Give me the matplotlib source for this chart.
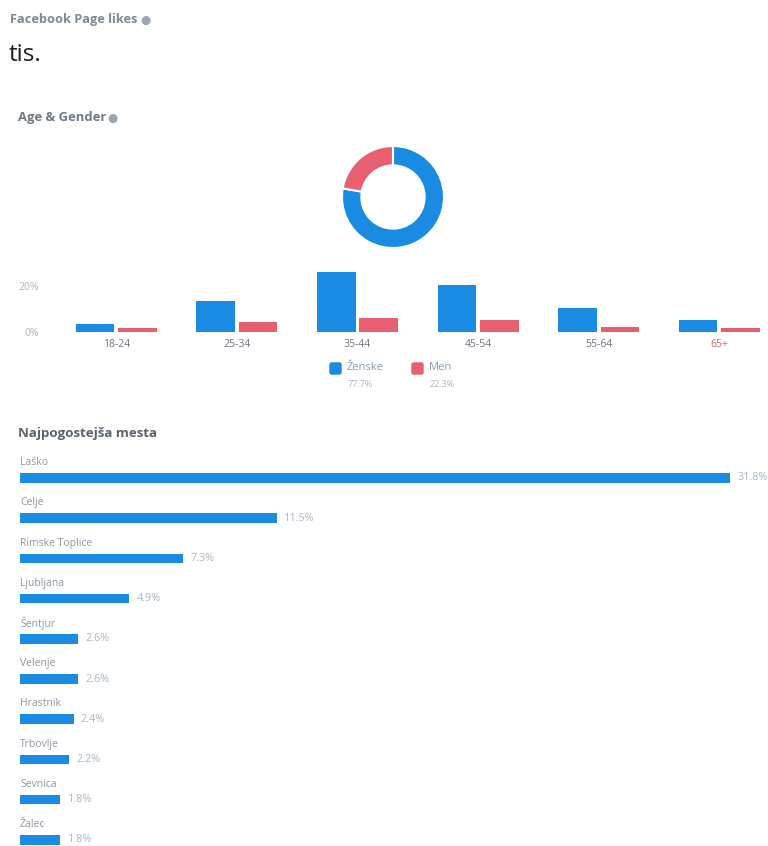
import matplotlib.pyplot as plt
from matplotlib.patches import FancyBboxPatch
import numpy as np

plt.rcParams['font.family'] = ['Open Sans', 'DejaVu Sans']

W, H = 768, 846

# data
age_groups = ['18-24', '25-34', '35-44', '45-54', '55-64', '65+']
women = [3.2, 13.5, 25.8, 20.3, 10.2, 5.1]
men = [1.7, 4.3, 5.8, 5.1, 2.2, 1.5]
gender_labels = ['Ženske', 'Men']
gender_share = [77.7, 22.3]

cities = ['Laško', 'Celje', 'Rimske Toplice', 'Ljubljana', 'Šentjur',
          'Velenje', 'Hrastnik', 'Trbovlje', 'Sevnica', 'Žalec']
city_share = [31.8, 11.5, 7.3, 4.9, 2.6, 2.6, 2.4, 2.2, 1.8, 1.8]

BLUE = '#1a8be2'
PINK = '#e8606f'
GRAY = '#8d97a5'
LIGHT = '#a9b7c8'


def rect(l, t, r, b):
    return [l / W, 1 - b / H, (r - l) / W, (b - t) / H]


def ftext(x, y, s, **kw):
    kw.setdefault('va', 'center')
    fig.text(x / W, 1 - y / H, s, **kw)


fig = plt.figure(figsize=(W / 100, H / 100), dpi=100)

# headers
ftext(10, 20, 'Facebook Page likes', fontsize=9.2, fontweight='bold', color='#7d8896')
ftext(140, 20, '●', fontsize=8.5, color='#9aa5b1', family='DejaVu Sans')
ftext(9, 55, 'tis.', fontsize=17.5, color='#1c1e21')
ftext(18, 118, 'Age & Gender', fontsize=9.4, fontweight='bold', color='#6e7a88')
ftext(107, 118, '●', fontsize=8.5, color='#9aa5b1', family='DejaVu Sans')
ftext(18, 434, 'Najpogostejša mesta', fontsize=9.5, fontweight='bold', color='#5a6270')

# donut
ax_d = fig.add_axes(rect(342, 146, 444, 248))
ax_d.pie(gender_share, colors=[BLUE, PINK], startangle=90, counterclock=False,
         radius=1, wedgeprops=dict(width=0.38, edgecolor='white', linewidth=1.5))
ax_d.set_xlim(-1, 1)
ax_d.set_ylim(-1, 1)
ax_d.axis('off')

# age bars
ax_b = fig.add_axes(rect(56, 265, 766, 331.7))
x = np.arange(len(age_groups))
bw = 0.32
ax_b.bar(x - 0.175, women, bw, color=BLUE)
ax_b.bar(x + 0.175, men, bw, color=PINK)
ax_b.set_xlim(-0.5, -0.5 + 710 / 120.6)
ax_b.set_ylim(0, 29)
ax_b.set_yticks([0, 20])
ax_b.set_yticklabels(['0%', '20%'], fontsize=7.5, color=LIGHT)
ax_b.set_xticks(x)
ax_b.set_xticklabels(age_groups, fontsize=7.5, color='#6f7784')
ax_b.get_xticklabels()[-1].set_color(PINK)
ax_b.tick_params(length=0, pad=5)
ax_b.tick_params(axis='y', pad=12)
for s in ax_b.spines.values():
    s.set_visible(False)

# legend
for lx, lab, val, col in [(330, gender_labels[0], gender_share[0], BLUE),
                          (412, gender_labels[1], gender_share[1], PINK)]:
    fig.patches.append(FancyBboxPatch((lx / W, 1 - 374 / H), 11 / W, 11 / H,
                                      boxstyle='round,pad=0,rounding_size=0.002',
                                      transform=fig.transFigure, color=col))
    ftext(lx + 17, 368, lab, fontsize=8, color='#8d9bb0')
    ftext(lx + 18, 384, f'{val}%', fontsize=6.5, color=LIGHT)

# cities
ax_c = fig.add_axes(rect(20, 455, 768, 846))
y = np.arange(len(cities))
ax_c.barh(y, city_share, 0.24, color=BLUE)
ax_c.set_xlim(0, 748 / 22.33)
ax_c.set_ylim((846 - 478) / 40.2, -(478 - 455) / 40.2)
for i, (c, v) in enumerate(zip(cities, city_share)):
    ax_c.text(0, i - 0.38, c, fontsize=7.5, color=GRAY, va='center', ha='left')
    ax_c.text(v + 0.33, i, f'{v}%', fontsize=7.8, color=LIGHT, va='center', ha='left')
ax_c.axis('off')

fig.savefig('out.png', dpi=100)
